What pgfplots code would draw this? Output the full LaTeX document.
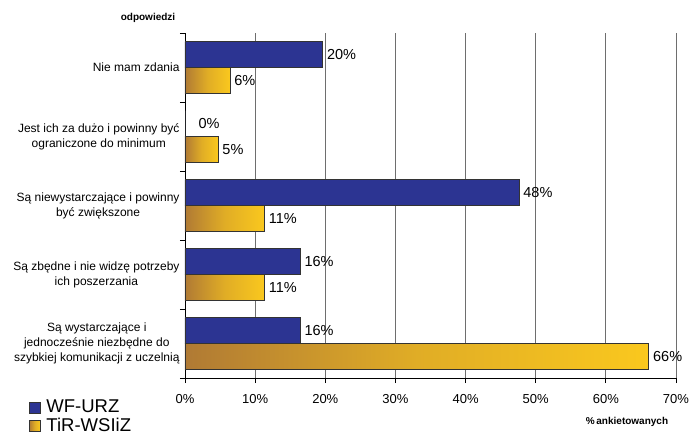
\documentclass[border=0pt]{standalone}
\usepackage{fontspec}
\setmainfont{Liberation Sans}
\usepackage{pgfplots}
\pgfplotsset{compat=1.18}
\definecolor{wfblue}{RGB}{44,52,146}
\definecolor{tirdark}{RGB}{176,122,52}
\definecolor{tiryellow}{RGB}{250,200,30}
\definecolor{gridgray}{RGB}{110,110,110}
\pgfplotsset{
  sqleg/.style={legend image code/.code={\draw[##1,draw=black!80] (0pt,-5.5pt) rectangle (11pt,5.5pt);}},
  wfbar/.style={draw=black!80, fill=wfblue, bar shift=13pt, sqleg},
  tirbar/.style={draw=black!80, left color=tirdark, right color=tiryellow, middle color=tiryellow!65!tirdark, bar shift=-13pt, sqleg}
}
\begin{document}
\begin{tikzpicture}
\useasboundingbox (-185pt,-59pt) rectangle (505pt,378pt);
\begin{axis}[
  xbar, scale only axis, width=491pt, height=345pt,
  xmin=0, xmax=70, ymin=-0.5, ymax=4.5, y dir=reverse,
  axis lines*=left, axis line style={line width=0.8pt},
  enlargelimits=false,
  xmajorgrids, grid style={gridgray, line width=0.8pt},
  tick align=outside, tick pos=left, major tick length=5pt,
  tick style={black, line width=0.8pt},
  /pgf/number format/assume math mode=true,
  xtick={0,10,...,70},
  xticklabel={\pgfmathprintnumber{\tick}\%},
  xticklabel style={font=\fontsize{13}{15}\selectfont, yshift=-8pt},
  ytick={-0.5,0.5,...,4.5}, yticklabels={},
  extra y ticks={0,1,2,3,4},
  extra y tick labels={{Nie mam zdania},{Jest ich za dużo i powinny być\\ograniczone do minimum},{Są niewystarczające i powinny\\być zwiększone},{Są zbędne i nie widzę potrzeby\\ich poszerzania},{Są wystarczające i\\jednocześnie niezbędne do\\szybkiej komunikacji z uczelnią}},
  extra y tick style={major tick length=0pt, yticklabel style={align=center, font=\fontsize{12}{15}\selectfont, xshift=-2pt}},
  bar width=26pt,
  nodes near coords,
  point meta=explicit symbolic,
  every node near coord/.append style={black, font=\fontsize{14.5}{16}\selectfont, anchor=west, xshift=1pt},
  legend style={at={(axis description cs:-0.318,-0.058)}, anchor=north west, draw=none, fill=none,
    font=\fontsize{18.5}{21}\selectfont, inner sep=0pt, row sep=0pt,
    /tikz/every odd column/.append style={column sep=4pt}},
  legend cell align=left,
]
\addplot[wfbar] coordinates {
  (19.6,0) [20\%]
  (47.6,2) [48\%]
  (16.4,3) [16\%]
  (16.4,4) [16\%]
};
\addplot[tirbar] coordinates {(6.4,0) [6\%]};
\addplot[wfbar, forget plot, every node near coord/.append style={xshift=9pt}] coordinates {(0,1) [0\%]};
\addplot[tirbar, forget plot] coordinates {(4.7,1) [5\%]};
\addplot[tirbar, forget plot] coordinates {(11.3,2) [11\%]};
\addplot[tirbar, forget plot] coordinates {(11.3,3) [11\%]};
\addplot[tirbar, forget plot] coordinates {(66.1,4) [66\%]};
\legend{WF-URZ, TiR-WSIiZ}
\end{axis}
\node[font=\bfseries\fontsize{10}{12}\selectfont] at (-37pt,360pt) {odpowiedzi};
\node[font=\bfseries\fontsize{10}{12}\selectfont] at (442pt,-44pt) {\%\,ankietowanych};
\end{tikzpicture}
\end{document}
